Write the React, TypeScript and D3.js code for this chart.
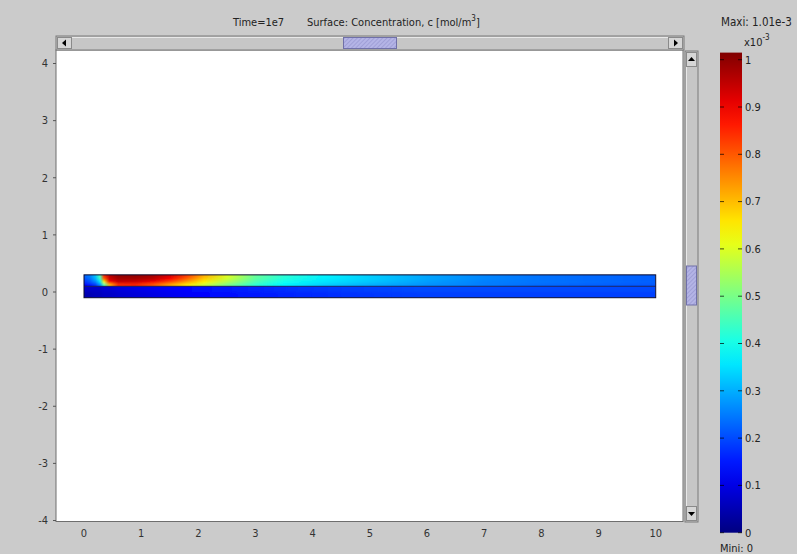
import React from "react";
import * as d3 from "d3";

// ---- data ----
const xTicks = [0, 1, 2, 3, 4, 5, 6, 7, 8, 9, 10];
const yTicks = [-4, -3, -2, -1, 0, 1, 2, 3, 4];
const cbTicks = [0, 0.1, 0.2, 0.3, 0.4, 0.5, 0.6, 0.7, 0.8, 0.9, 1];
const cbLabels = ["0", "0.1", "0.2", "0.3", "0.4", "0.5", "0.6", "0.7", "0.8", "0.9", "1"];
const cMax = 1.01; // x1e-3 mol/m^3

// sample positions along the strip (x, m)
const xStops = [0, 0.1, 0.2, 0.28, 0.35, 0.45, 0.6, 0.9, 1.2, 1.5, 1.8, 2.1, 2.5, 3.0, 3.5, 4.2, 5, 6, 7, 8, 9, 10];
// upper layer (y 0.1..0.3), rows top -> bottom, concentration x1e-3
const upperRow0 = [0.22, 0.25, 0.32, 0.46, 0.84, 0.95, 0.99, 0.99, 0.97, 0.92, 0.82, 0.71, 0.6, 0.48, 0.42, 0.37, 0.33, 0.29, 0.26, 0.24, 0.23, 0.22];
const upperRow1 = [0.2, 0.23, 0.3, 0.42, 0.78, 0.93, 0.97, 0.97, 0.95, 0.88, 0.78, 0.68, 0.58, 0.47, 0.41, 0.36, 0.33, 0.29, 0.26, 0.24, 0.23, 0.22];
const upperRow2 = [0.17, 0.2, 0.25, 0.35, 0.62, 0.88, 0.94, 0.93, 0.89, 0.81, 0.72, 0.64, 0.55, 0.45, 0.39, 0.35, 0.32, 0.28, 0.25, 0.24, 0.23, 0.22];
const upperRow3 = [0.12, 0.14, 0.18, 0.26, 0.45, 0.7, 0.84, 0.85, 0.8, 0.72, 0.65, 0.58, 0.5, 0.42, 0.37, 0.33, 0.3, 0.27, 0.25, 0.23, 0.22, 0.21];
// lower layer (y -0.1..0.1), rows top -> bottom
const lowerRow0 = [0.07, 0.07, 0.07, 0.07, 0.08, 0.08, 0.09, 0.1, 0.11, 0.12, 0.13, 0.14, 0.15, 0.16, 0.17, 0.18, 0.19, 0.2, 0.2, 0.2, 0.2, 0.2];
const lowerRow1 = [0.05, 0.05, 0.06, 0.06, 0.07, 0.07, 0.08, 0.09, 0.1, 0.11, 0.12, 0.13, 0.14, 0.15, 0.16, 0.17, 0.18, 0.19, 0.19, 0.19, 0.19, 0.19];

const upperRows = [upperRow0, upperRow1, upperRow2, upperRow3];
const lowerRows = [lowerRow0, lowerRow1];

function jet(t: number) {
  const c = (v: number) => Math.max(0, Math.min(1, v));
  const r = c(1.5 - Math.abs(4 * t - 3));
  const g = c(1.5 - Math.abs(4 * t - 2));
  const b = c(1.5 - Math.abs(4 * t - 1));
  return d3.rgb(r * 255, g * 255, b * 255).formatHex();
}

const FONT = "'DejaVu Sans Condensed', 'DejaVu Sans', sans-serif";
const BG = "#cbcbcb";

export default function App() {
  const W = 797, H = 554;
  const x = d3.scaleLinear().domain([0, 10]).range([84, 655.7]);
  const y = d3.scaleLinear().domain([-4, 4]).range([520.5, 63.5]);
  const cb = d3.scaleLinear().domain([0, 1]).range([532.7, 59.7]);

  const plotL = 56, plotR = 683, plotT = 50, plotB = 521.5;

  const x0 = x(0), x10 = x(10);
  const yTop = y(0.3), yMid = y(0.1), yBot = y(-0.1);

  const cbSamples = d3.range(0, 1.0001, 0.05);

  const renderLayer = (rows: number[][], top: number, bottom: number, key: string) => {
    const h = (bottom - top) / rows.length;
    return (
      <g key={key} clipPath={`url(#clip-${key})`}>
        <g filter="url(#vblur)">
          {rows.map((row, i) => {
            const ry = top + i * h - (i === 0 ? 4 : 0);
            const rh = h + (i === 0 ? 4 : 0) + (i === rows.length - 1 ? 4 : 0) + 0.5;
            return <rect key={i} x={x0} y={ry} width={x10 - x0} height={rh} fill={`url(#grad-${key}-${i})`} />;
          })}
        </g>
      </g>
    );
  };

  const gradDefs = (rows: number[][], key: string) =>
    rows.map((row, i) => (
      <linearGradient key={`${key}-${i}`} id={`grad-${key}-${i}`} gradientUnits="userSpaceOnUse" x1={x0} x2={x10} y1={0} y2={0}>
        {row.map((v, j) => (
          <stop key={j} offset={(xStops[j] - 0) / 10} stopColor={jet(v / cMax)} />
        ))}
      </linearGradient>
    ));

  const hsb = { x1: 56, x2: 684, y1: 36, y2: 50 };
  const vsb = { x1: 685, x2: 698, y1: 51, y2: 522 };

  return (
    <svg width={W} height={H} style={{ position: "absolute", left: 0, top: 0, display: "block" }} fontFamily={FONT}>
      <defs>
        {gradDefs(upperRows, "up")}
        {gradDefs(lowerRows, "lo")}
        <clipPath id="clip-up"><rect x={x0} y={yTop} width={x10 - x0} height={yMid - yTop} /></clipPath>
        <clipPath id="clip-lo"><rect x={x0} y={yMid} width={x10 - x0} height={yBot - yMid} /></clipPath>
        <filter id="vblur" x="-1%" y="-60%" width="102%" height="220%">
          <feGaussianBlur stdDeviation="0.6 1.3" />
        </filter>
        <linearGradient id="cbgrad" x1="0" y1="1" x2="0" y2="0">
          {cbSamples.map((t, i) => (
            <stop key={i} offset={t} stopColor={jet(t)} />
          ))}
        </linearGradient>
        <pattern id="hatch" width="3" height="3" patternUnits="userSpaceOnUse" patternTransform="rotate(45)">
          <rect width="3" height="3" fill="#b4b4e6" />
          <line x1="0" y1="0" x2="0" y2="3" stroke="#8c8cc8" strokeWidth="1" />
        </pattern>
      </defs>

      <rect x={0} y={0} width={W} height={H} fill={BG} />

      {/* title */}
      <text x={233} y={26} fontSize={11} fill="#222">Time=1e7</text>
      <text x={307} y={26} fontSize={11} fill="#222">
        Surface: Concentration, c [mol/m<tspan dy={-5} fontSize={8}>3</tspan><tspan dy={5}>]</tspan>
      </text>

      {/* plot area */}
      <rect x={plotL} y={plotT} width={plotR - plotL} height={plotB - plotT} fill="#fff" stroke="#6e6e6e" strokeWidth={1} />

      {/* strip field */}
      {renderLayer(upperRows, yTop, yMid, "up")}
      {renderLayer(lowerRows, yMid, yBot, "lo")}
      <rect x={x0} y={yTop} width={x10 - x0} height={yBot - yTop} fill="none" stroke="#0c0c30" strokeWidth={1} />
      <line x1={x0} x2={x10} y1={yMid} y2={yMid} stroke="#0c0c40" strokeWidth={1} strokeOpacity={0.8} />

      {/* y axis */}
      {yTicks.map((t) => (
        <g key={t}>
          <line x1={plotL - 3} x2={plotL} y1={y(t)} y2={y(t)} stroke="#555" />
          <text x={plotL - 8} y={y(t)} dy="0.35em" textAnchor="end" fontSize={11} fill="#333">{t}</text>
        </g>
      ))}
      {/* x axis */}
      {xTicks.map((t) => (
        <text key={t} x={x(t)} y={533} dy="0.35em" textAnchor="middle" fontSize={11} fill="#333">{t}</text>
      ))}

      {/* horizontal scrollbar */}
      <rect x={hsb.x1} y={hsb.y1} width={hsb.x2 - hsb.x1} height={hsb.y2 - hsb.y1} fill="#c6c6c6" stroke="#7a7a7a" />
      <line x1={hsb.x1 + 1} x2={hsb.x2 - 1} y1={hsb.y1 + 1.5} y2={hsb.y1 + 1.5} stroke="#e8e8e8" />
      <rect x={hsb.x1 + 1.5} y={hsb.y1 + 1.5} width={14} height={11} fill="#d6d6d6" stroke="#8a8a8a" />
      <path d={`M${hsb.x1 + 6},43 L${hsb.x1 + 10},39.5 L${hsb.x1 + 10},46.5 Z`} fill="#000" />
      <rect x={hsb.x2 - 15.5} y={hsb.y1 + 1.5} width={14} height={11} fill="#d6d6d6" stroke="#8a8a8a" />
      <path d={`M${hsb.x2 - 6},43 L${hsb.x2 - 10},39.5 L${hsb.x2 - 10},46.5 Z`} fill="#000" />
      <rect x={343.5} y={hsb.y1 + 1.5} width={53} height={11} fill="url(#hatch)" stroke="#7070a8" />

      {/* vertical scrollbar */}
      <rect x={vsb.x1} y={vsb.y1} width={vsb.x2 - vsb.x1} height={vsb.y2 - vsb.y1} fill="#c6c6c6" stroke="#7a7a7a" />
      <line x1={vsb.x1 + 1.5} x2={vsb.x1 + 1.5} y1={vsb.y1 + 1} y2={vsb.y2 - 1} stroke="#e8e8e8" />
      <rect x={vsb.x1 + 1.5} y={vsb.y1 + 1.5} width={10} height={14} fill="#d6d6d6" stroke="#8a8a8a" />
      <path d={`M691.5,57 L688,61 L695,61 Z`} fill="#000" />
      <rect x={vsb.x1 + 1.5} y={vsb.y2 - 15.5} width={10} height={14} fill="#d6d6d6" stroke="#8a8a8a" />
      <path d={`M691.5,516 L688,512 L695,512 Z`} fill="#000" />
      <rect x={vsb.x1 + 1.5} y={266} width={10} height={39} fill="url(#hatch)" stroke="#7070a8" />

      {/* colorbar */}
      <text x={721} y={26} fontSize={11.5} fill="#222">Maxi: 1.01e-3</text>
      <text x={744} y={46} fontSize={11} fill="#222">x10<tspan dy={-6} fontSize={8}>-3</tspan></text>
      <rect x={720} y={cb(1.015)} width={22} height={cb(0) - cb(1.015)} fill="url(#cbgrad)" />
      {cbTicks.map((t, i) => (
        <g key={t}>
          <line x1={720} x2={724} y1={cb(t)} y2={cb(t)} stroke="#000" strokeOpacity={0.7} />
          <line x1={738} x2={742} y1={cb(t)} y2={cb(t)} stroke="#000" strokeOpacity={0.7} />
          <text x={745} y={cb(t)} dy="0.35em" fontSize={11} fill="#222">{cbLabels[i]}</text>
        </g>
      ))}
      <text x={720} y={552} fontSize={11} fill="#222">Mini: 0</text>
    </svg>
  );
}
